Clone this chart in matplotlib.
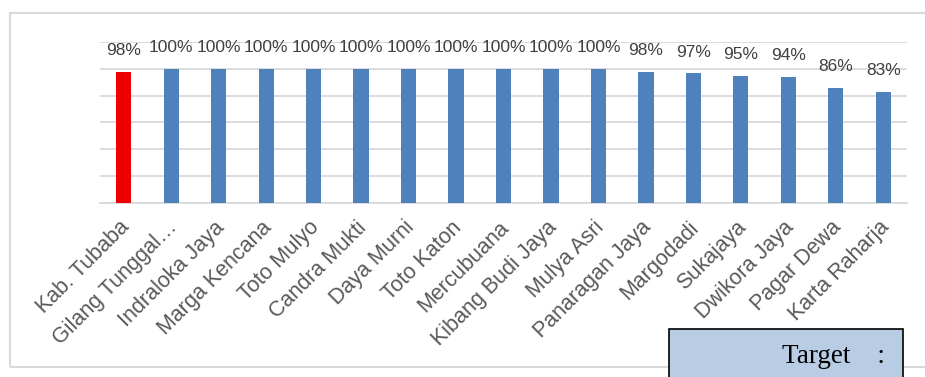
import matplotlib
matplotlib.use('Agg')
import matplotlib.pyplot as plt
import matplotlib.transforms as mtransforms
from matplotlib.patches import Rectangle

# data
desa = ['Kab. Tubaba', 'Gilang Tunggal\u2026', 'Indraloka Jaya', 'Marga Kencana',
        'Toto Mulyo', 'Candra Mukti', 'Daya Murni', 'Toto Katon', 'Mercubuana',
        'Kibang Budi Jaya', 'Mulya Asri', 'Panaragan Jaya', 'Margodadi',
        'Sukajaya', 'Dwikora Jaya', 'Pagar Dewa', 'Karta Raharja']
capaian = [0.978, 1.0, 1.0, 1.0, 1.0, 1.0, 1.0, 1.0, 1.0, 1.0, 1.0,
           0.978, 0.966, 0.947, 0.938, 0.858, 0.826]
label_box = 'Target    :'

warna = ['#ee0000'] + ['#4f81bd'] * (len(desa) - 1)

fig = plt.figure(figsize=(9.25, 3.77), dpi=100)
plt.rcParams['font.family'] = ['Liberation Sans', 'DejaVu Sans']

# outer chart frame
fig.patches.append(Rectangle((10 / 925, 10 / 377), 1.2, 354 / 377,
                             transform=fig.transFigure, fill=False,
                             edgecolor='#d9d9d9', linewidth=1.5))

ax = fig.add_axes([100 / 925, 1 - 203 / 377, 807 / 925, 161 / 377])
x = range(len(desa))
bars = ax.bar(x, capaian, width=0.32, color=warna, zorder=3)

for b, v in zip(bars, capaian):
    ax.annotate('{:.0%}'.format(v), (b.get_x() + b.get_width() / 2, v),
                xytext=(0, 10), textcoords='offset points', ha='center',
                va='bottom', fontsize=12.5, color='#404040')

ax.set_xlim(-0.5, len(desa) - 0.5)
ax.set_ylim(0, 1.2)
ax.set_yticks([0, 0.2, 0.4, 0.6, 0.8, 1.0, 1.2])
ax.yaxis.grid(True, color='#d9d9d9', linewidth=1.3, zorder=0)
ax.tick_params(axis='y', left=False, labelleft=False)
ax.tick_params(axis='x', length=0, pad=10)
ax.set_xticks(list(x))
ax.set_xticklabels(desa, rotation=45, ha='right', rotation_mode='anchor',
                   fontsize=15.5, color='#595959')
# nudge labels a little to the left, like the original
geser = mtransforms.ScaledTranslation(-5 / 100, 0, fig.dpi_scale_trans)
for lbl in ax.get_xticklabels():
    lbl.set_transform(lbl.get_transform() + geser)
for s in ['top', 'right', 'left']:
    ax.spines[s].set_visible(False)
ax.spines['bottom'].set_color('#d9d9d9')
ax.spines['bottom'].set_linewidth(1.3)

# target box at the bottom right
fig.patches.append(Rectangle((669 / 925, -0.1), 234 / 925, 0.1 + 48 / 377,
                             transform=fig.transFigure, facecolor='#b8cce4',
                             edgecolor='black', linewidth=1.2, zorder=5))
fig.text(885 / 925, 1 - 363 / 377, label_box, ha='right', va='baseline',
         fontsize=19.5, family=['Liberation Serif'], color='black', zorder=6)

fig.savefig('out.png', dpi=100)
